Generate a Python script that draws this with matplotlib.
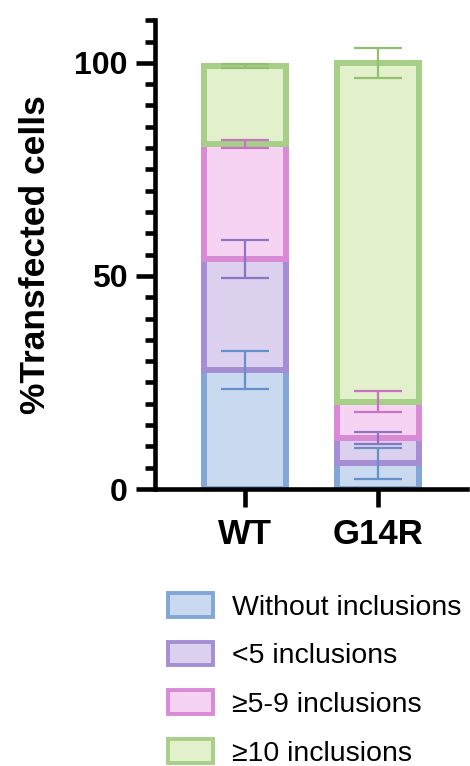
import matplotlib
matplotlib.use('Agg')
import matplotlib.pyplot as plt
from matplotlib.patches import Patch
import numpy as np

plt.rcParams['font.family'] = ['Liberation Sans', 'DejaVu Sans']

groups = ['WT', 'G14R']
categories = ['Without inclusions', '<5 inclusions', '\u22655-9 inclusions', '\u226510 inclusions']

# stacked segment heights (percent) and SD
without_incl = [28, 6]
lt5_incl = [26, 6]
incl_5_9 = [27, 8.5]
ge10_incl = [18.3, 79.5]

without_err = [4.5, 3.7]
lt5_err = [4.5, 1.4]
incl_5_9_err = [1.0, 2.4]
ge10_err = [0.4, 3.5]

fills = ['#c8d9f0', '#dbd0ee', '#f7d3f3', '#e2f0cc']
edges = ['#82a6d6', '#a58ed3', '#d98ad5', '#a7cf87']
errcols = ['#6690c8', '#8c74c4', '#c873c3', '#93c06f']

segments = [without_incl, lt5_incl, incl_5_9, ge10_incl]
errors = [without_err, lt5_err, incl_5_9_err, ge10_err]

fig = plt.figure(figsize=(4.7, 7.66), dpi=100)
ax = fig.add_axes([0.33, 0.3616, 0.664, 0.612])

x = np.arange(len(groups))
bottom = np.zeros(len(groups))
for seg, err, fc, ec, erc in zip(segments, errors, fills, edges, errcols):
    seg = np.array(seg)
    ax.bar(x, seg, 0.62, bottom=bottom, color=fc, edgecolor=ec, linewidth=4.3, zorder=2)
    top = bottom + seg
    ax.errorbar(x, top, yerr=err, fmt='none', ecolor=erc, elinewidth=1.6,
                capsize=17, capthick=1.6, zorder=3)
    bottom = top

ax.set_xlim(-0.677, 1.67)
ax.set_ylim(0, 110)
ax.set_yticks([0, 50, 100])
ax.set_yticks(np.arange(0, 111, 5), minor=True)
ax.set_xticks(x)
ax.set_xticklabels(groups, fontsize=25, fontweight='bold')
ax.tick_params(axis='y', which='major', length=14, width=3.3, labelsize=23, pad=6)
ax.tick_params(axis='y', which='minor', length=7, width=3.3)
ax.tick_params(axis='x', which='major', length=13, width=3.3, pad=8)
for lab in ax.get_yticklabels():
    lab.set_fontweight('bold')
ax.spines['top'].set_visible(False)
ax.spines['right'].set_visible(False)
ax.spines['left'].set_linewidth(3.3)
ax.spines['bottom'].set_linewidth(3.3)
ax.set_ylabel('%Transfected cells', fontsize=25.5, fontweight='bold', labelpad=16)

handles = [Patch(facecolor=fc, edgecolor=ec, linewidth=2.8) for fc, ec in zip(fills, edges)]
fig.legend(handles, categories, loc='upper left', bbox_to_anchor=(0.357, 0.226),
           frameon=False, fontsize=20.5, handlelength=1.6, handleheight=0.9,
           handletextpad=0.65, labelspacing=0.74, borderaxespad=0, borderpad=0)

fig.savefig('out.png', dpi=100)
